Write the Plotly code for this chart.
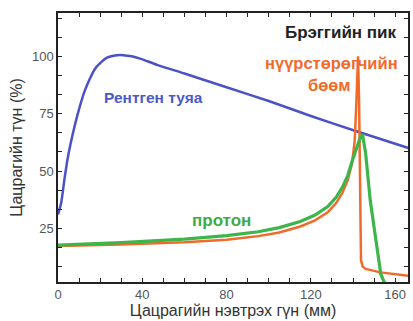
import plotly.graph_objects as go

# X-ray (Рентген туяа)
xray_depth = [0, 1.5, 3, 4.5, 6, 8, 10, 12.5, 15, 17.5, 20, 23, 27, 31, 35, 39, 47, 60, 80, 100, 120, 142, 166.3]
xray_dose = [31, 36, 46, 55, 62, 70, 77, 84.5, 90, 94.5, 97, 99.3, 100.4, 100.5, 100, 99, 96.3, 92.5, 86.5, 80.5, 74, 67.2, 60]

# Carbon ions (нүүрстөрөгчийн бөөм)
carbon_depth = [0, 30, 60, 80, 95, 105, 115, 122, 128, 132, 135, 137.5, 139.5, 140.8, 141.6, 142.4, 142.9, 143.4, 143.8, 144.6, 146, 153, 166.3]
carbon_dose = [17.3, 17.9, 18.9, 20, 21.6, 23.2, 25.8, 28.5, 32, 36, 40.5, 46, 53, 63, 80, 100, 80, 40, 11, 8.3, 7.3, 5.8, 4.3]

# Protons (протон)
proton_depth = [0, 30, 60, 80, 95, 105, 115, 122, 128, 132, 135, 137.5, 139.5, 141.5, 143.2, 144.5, 146, 148.2, 150.8, 153.2, 155.5]
proton_dose = [17.7, 18.8, 20.3, 21.8, 23.5, 25.3, 28, 30.8, 34.5, 38.5, 43, 48, 54, 60, 64, 66, 57.7, 37, 20, 5, 0]

x_tick_vals = list(range(0, 161, 10))
x_tick_text = [str(v) if v % 40 == 0 else "" for v in x_tick_vals]
y_tick_vals = [k * 25 / 3 for k in range(1, 15)]
y_tick_text = [str(int(round(v))) if k % 3 == 0 else "" for k, v in zip(range(1, 15), y_tick_vals)]

fig = go.Figure()
fig.add_trace(go.Scatter(x=xray_depth, y=xray_dose, mode="lines",
                         line=dict(color="#4b52c6", width=2.5, shape="spline", smoothing=0.6),
                         showlegend=False))
fig.add_trace(go.Scatter(x=carbon_depth, y=carbon_dose, mode="lines",
                         line=dict(color="#f26a2a", width=2.5), showlegend=False))
fig.add_trace(go.Scatter(x=proton_depth, y=proton_dose, mode="lines",
                         line=dict(color="#3db54a", width=3.2), showlegend=False))

font_family = "Liberation Sans, Arial, sans-serif"

fig.add_annotation(x=134.5, y=110.6, text="<b>Брэггийн пик</b>", showarrow=False,
                   font=dict(size=17, color="#222222", family=font_family))
fig.add_annotation(x=129.7, y=97, text="<b>нүүрстөрөгчийн</b>", showarrow=False,
                   font=dict(size=16.5, color="#f26a2a", family=font_family))
fig.add_annotation(x=129, y=87.5, text="<b>бөөм</b>", showarrow=False,
                   font=dict(size=16.5, color="#f26a2a", family=font_family))
fig.add_annotation(x=45.5, y=82.2, text="<b>Рентген туяа</b>", showarrow=False,
                   font=dict(size=15.5, color="#4b5ac8", family=font_family))
fig.add_annotation(x=77.6, y=28.6, text="<b>протон</b>", showarrow=False,
                   font=dict(size=17, color="#3aac4a", family=font_family))

fig.update_layout(
    width=413, height=321,
    margin=dict(l=58, r=3, t=13, b=39),
    paper_bgcolor="white", plot_bgcolor="white",
    font=dict(family=font_family),
    xaxis=dict(range=[0, 166.1], tickvals=x_tick_vals, ticktext=x_tick_text,
               ticks="inside", ticklen=4, tickwidth=1, tickcolor="#222",
               showline=True, linecolor="#222", linewidth=1.5, mirror="ticks",
               showgrid=False, zeroline=False,
               tickfont=dict(size=13, color="#555555"),
               title=dict(text="Цацрагийн нэвтрэх гүн (мм)", standoff=2,
                          font=dict(size=16, color="#333333"))),
    yaxis=dict(range=[1.6, 118.9], tickvals=y_tick_vals, ticktext=y_tick_text,
               ticks="inside", ticklen=4, tickwidth=1, tickcolor="#222",
               showline=True, linecolor="#222", linewidth=1.5, mirror="ticks",
               showgrid=False, zeroline=False,
               tickfont=dict(size=13, color="#555555"),
               title=dict(text="Цацрагийн түн (%)", standoff=5,
                          font=dict(size=16, color="#333333"))),
)

fig.write_html("out.html", config={"displayModeBar": False},
               post_script="document.body.style.margin='0';")
